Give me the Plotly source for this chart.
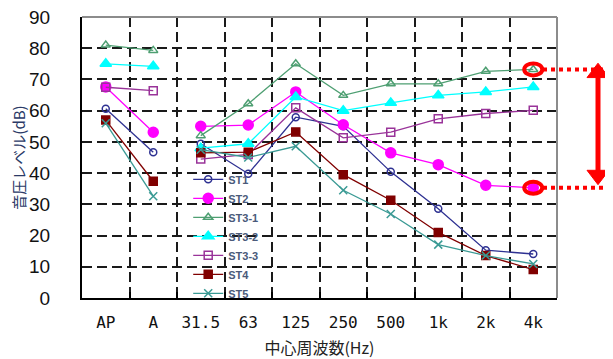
import plotly.graph_objects as go

categories = ["AP", "A", "31.5", "63", "125", "250", "500", "1k", "2k", "4k"]
series_names = ["ST1", "ST2", "ST3-1", "ST3-2", "ST3-3", "ST4", "ST5"]

st1 = [60.6, 46.7, 49.4, 39.8, 57.9, 55.0, 40.4, 28.6, 15.3, 14.1]
st2 = [67.6, 53.1, 55.0, 55.4, 66.0, 55.5, 46.5, 42.7, 36.1, 35.3]
st3_1 = [81.0, 79.3, 52.0, 62.2, 75.0, 64.9, 68.6, 68.6, 72.6, 73.2]
st3_2 = [75.0, 74.2, 48.0, 49.4, 64.4, 60.0, 62.5, 64.9, 66.0, 67.6]
st3_3 = [67.5, 66.4, 44.5, 46.0, 60.9, 51.3, 53.1, 57.4, 59.1, 60.1]
st4 = [57.0, 37.4, 46.5, 46.7, 53.2, 39.5, 31.3, 21.0, 13.6, 9.1]
st5 = [56.0, 32.6, 47.5, 45.0, 48.6, 34.5, 26.9, 17.1, 13.6, 10.9]

y_ticks = [0, 10, 20, 30, 40, 50, 60, 70, 80, 90]

series_values = [st1, st2, st3_1, st3_2, st3_3, st4, st5]
colors = ["#2E3192", "#FF00FF", "#4E9F72", "#00FFFF", "#993399", "#800000", "#3A9A94"]
symbols = ["circle-open", "circle", "triangle-up-open", "triangle-up", "square-open", "square", "x-thin"]
sizes = [7, 10, 8, 10, 8, 8, 8]

# page has an 8px body margin, so the figure is sized/margined to land the
# plot area where the reference has it
W, H = 605, 351
ML, MR, MT, MB = 74, 56, 9, 61
plot_w = W - ML - MR

fig = go.Figure()
for name, vals, col, sym, sz in zip(series_names, series_values, colors, symbols, sizes):
    for seg, (xs, ys) in enumerate([(categories[:2], vals[:2]), (categories[2:], vals[2:])]):
        fig.add_trace(go.Scatter(
            x=xs, y=ys, name=name, legendgroup=name, showlegend=(seg == 1),
            mode="lines+markers",
            line=dict(color=col, width=1.3),
            marker=dict(symbol=sym, size=sz, color=col,
                        line=dict(color=col, width=1.5)),
        ))

grid_col = "#1a1a1a"
fig.update_xaxes(
    type="category", categoryorder="array", categoryarray=categories,
    range=[-0.5, len(categories) - 0.5], automargin=False,
    tickson="boundaries", ticks="inside", ticklen=6, tickcolor="#000", tickwidth=1.5,
    showgrid=True, gridcolor=grid_col, gridwidth=1.5, griddash="10px,5px",
    showline=True, linecolor="#000", linewidth=2,
    tickangle=0, ticklabeloverflow="allow",
    tickfont=dict(family="DejaVu Sans Mono", size=16, color="#111"),
    ticklabelstandoff=9,
    title=dict(text="中心周波数(Hz)", font=dict(family="Noto Sans CJK JP", size=16, color="#222"),
               standoff=15),
    fixedrange=True,
)
fig.update_yaxes(
    range=[0, 90], tickvals=y_ticks, automargin=False,
    showgrid=True, gridcolor=grid_col, gridwidth=1.5, griddash="10px,5px",
    zeroline=False, ticklabeloverflow="allow",
    showline=True, linecolor="#000", linewidth=2,
    ticks="", tickfont=dict(family="Liberation Sans Narrow, Liberation Sans", size=19, color="#111"),
    ticklabelstandoff=26,
    title=dict(text="音圧レベル(dB)", font=dict(family="Noto Sans CJK JP", size=15, color="#2B3A67"),
               standoff=0),
    fixedrange=True,
)

shapes = []
# white patch behind the legend (hides gridlines, stays under the traces)
shapes.append(dict(type="rect", xref="paper", yref="paper", x0=0.222, x1=0.438, y0=0.01, y1=0.43,
                   fillcolor="white", line=dict(width=0), layer="between"))
# gray frame top/right
shapes.append(dict(type="line", xref="paper", yref="paper", x0=0, x1=1, y0=1, y1=1,
                   line=dict(color="#8C8C8C", width=2), layer="above"))
shapes.append(dict(type="line", xref="paper", yref="paper", x0=1, x1=1, y0=0, y1=1,
                   line=dict(color="#8C8C8C", width=2), layer="above"))

top_v = st3_1[-1]
bot_v = st2[-1]
red = "#FF0000"


def px(p):
    return 1 + p / plot_w


for v in (top_v, bot_v):
    shapes.append(dict(type="circle", xref="x", yref="y", xsizemode="pixel", ysizemode="pixel",
                       xanchor=len(categories) - 1, yanchor=v, x0=-9, x1=9, y0=-6, y1=6,
                       line=dict(color=red, width=4), layer="above"))
    shapes.append(dict(type="line", xref="paper", yref="paper",
                       x0=px(-14), x1=px(60), y0=v / 90, y1=v / 90,
                       line=dict(color=red, width=4, dash="4px,4px"), layer="above"))

# double arrow
ax = 41
head_h = 4.6
shapes.append(dict(type="line", xref="paper", yref="paper",
                   x0=px(ax), x1=px(ax), y0=(bot_v + 4.5) / 90, y1=(top_v - 2.5) / 90,
                   line=dict(color=red, width=5), layer="above"))
yt_tip = (top_v + 2.0) / 90
yt_base = (top_v + 2.0 - head_h) / 90
yb_tip = (bot_v + 1.0) / 90
yb_base = (bot_v + 1.0 + head_h) / 90
for tip, base in ((yt_tip, yt_base), (yb_tip, yb_base)):
    shapes.append(dict(type="path", xref="paper", yref="paper",
                       path=f"M{px(ax-11)},{base}L{px(ax)},{tip}L{px(ax+11)},{base}Z",
                       fillcolor=red, line=dict(color=red, width=1), layer="above"))

fig.update_layout(
    width=W, height=H,
    margin=dict(l=ML, r=MR, t=MT, b=MB, autoexpand=False),
    paper_bgcolor="white", plot_bgcolor="white",
    shapes=shapes,
    legend=dict(x=0.2236, y=0.474, xanchor="left", yanchor="top",
                bgcolor="rgba(255,255,255,0)", borderwidth=0,
                font=dict(family="Liberation Sans", size=11, color="#4A5A7A", weight="bold"),
                itemwidth=30, tracegroupgap=0),
    showlegend=True,
)

fig.write_html("out.html")
